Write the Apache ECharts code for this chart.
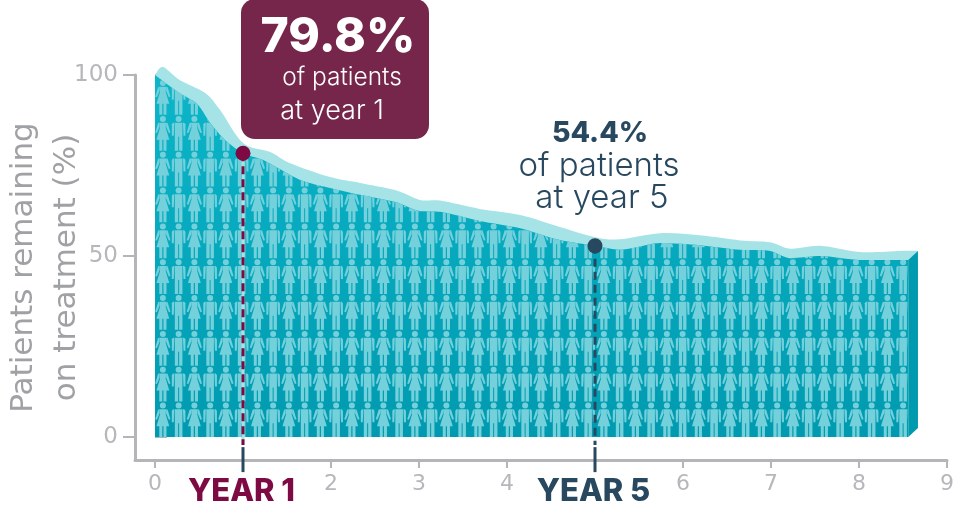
<!DOCTYPE html>
<html><head><meta charset="utf-8">
<style>html,body{margin:0;padding:0;background:#fff}#c{width:956px;height:512px}</style>
<script src="https://cdn.jsdelivr.net/npm/echarts@6/dist/echarts.min.js"></script>
</head><body><div id="c"></div>
<script>
const lowerEdge = [[0,100],[0.28,95],[0.48,92],[0.63,86.7],[0.8,82],[1,78.4],[1.23,76.5],[1.65,71],[1.99,68.8],[2.33,66.9],[2.73,64.9],[3.01,62.4],[3.24,62.2],[3.69,59.7],[4.15,57.7],[4.6,54.4],[5,52.8],[5.28,51.7],[5.74,53.6],[6.19,53],[6.65,51.7],[6.99,51.4],[7.22,49.4],[7.56,50],[8.01,48.9],[8.56,48.9]];
const upperEdge = [[0,100],[0.09,102.2],[0.28,98.6],[0.57,95],[0.74,90.3],[1,81.2],[1.31,78.7],[1.53,75.7],[1.99,71.8],[2.33,70.2],[2.73,68.2],[3.01,65.5],[3.24,65.3],[3.69,63],[4.15,61.3],[4.6,58],[5,55.2],[5.28,54.6],[5.74,56.3],[6.19,55.7],[6.65,54.3],[6.99,53.8],[7.22,52],[7.56,52.8],[8.01,51.1],[8.47,51.4],[8.67,51.4]];
const sideFace = [[8.56,48.9],[8.67,51.4],[8.67,2.5],[8.56,0]];
const xTicks = [0,1,2,3,4,5,6,7,8,9];
const yTicks = [0,50,100];
const year1 = [1,78.4];
const year5 = [5,52.8];
const FONT = 'Inter, "Open Sans", sans-serif';
const NUMFONT = '"DejaVu Sans", sans-serif';
const GREY = '#9fa1a4', TICKGREY = '#b5b7ba', MAROON = '#7d0a42', NAVY = '#28485f', BOX = '#76264a';

function tile(){
  const rows = 6, rowH = 215/rows;
  const c = document.createElement('canvas'); c.width = 63; c.height = 215;
  const g = c.getContext('2d'); g.fillStyle = '#74d0da';
  function poly(x,y,p){ g.beginPath(); p.forEach((q,i)=> i?g.lineTo(x+q[0],y+q[1]):g.moveTo(x+q[0],y+q[1])); g.closePath(); g.fill(); }
  function head(x,y){ g.beginPath(); g.arc(x,y+3.2,3,0,7); g.fill(); }
  function woman(x,y){
    head(x,y);
    poly(x,y,[[-3.4,7],[3.4,7],[2.8,12],[6.4,24],[3.6,24],[3.6,35],[0.6,35],[0.6,24],[-0.6,24],[-0.6,35],[-3.6,35],[-3.6,24],[-6.4,24],[-2.8,12]]);
    poly(x,y,[[-3.4,7],[-4.8,7.3],[-7.6,17],[-6,17.4],[-3.2,11]]);
    poly(x,y,[[3.4,7],[4.8,7.3],[7.6,17],[6,17.4],[3.2,11]]);
  }
  function man(x,y){
    head(x,y);
    poly(x,y,[[-3.8,7],[3.8,7],[3.8,35],[0.5,35],[0.5,21],[-0.5,21],[-0.5,35],[-3.8,35]]);
    poly(x,y,[[-4.4,7],[-5.6,7],[-6.8,8.5],[-6.8,20],[-4.9,20],[-4.4,9.5]]);
    poly(x,y,[[4.4,7],[5.6,7],[6.8,8.5],[6.8,20],[4.9,20],[4.4,9.5]]);
  }
  for(let r=0;r<rows;r++){
    for(let k=0;k<4;k++){ (k%2?man:woman)(7.875+k*15.75, r*rowH+0.2); }
  }
  return c;
}

function curve(pts, move){
  let d = (move?'M':'L')+pts[0][0]+' '+pts[0][1];
  for(let i=0;i<pts.length-1;i++){
    const p0=pts[Math.max(i-1,0)],p1=pts[i],p2=pts[i+1],p3=pts[Math.min(i+2,pts.length-1)],t=0.16;
    d+=' C'+(p1[0]+(p2[0]-p0[0])*t)+' '+(p1[1]+(p2[1]-p0[1])*t)+' '+(p2[0]-(p3[0]-p1[0])*t)+' '+(p2[1]-(p3[1]-p1[1])*t)+' '+p2[0]+' '+p2[1];
  }
  return d;
}
function rule(name,from,to,color,dash,z){
  return {name,type:'line',data:[from,to],symbol:'none',clip:false,z,silent:true,
    lineStyle:{color,width:3,type:dash?[8,5]:'solid',cap:'butt'}};
}
const chart = echarts.init(document.getElementById('c'),null,{renderer:'canvas'});
chart.setOption({
  animation:false,
  backgroundColor:'#fff',
  grid:{left:135,right:9,top:75,bottom:52,outerBoundsMode:'none',containLabel:false},
  xAxis:{type:'value',min:-20/88,max:9,splitLine:{show:false},
    axisLine:{onZero:false,lineStyle:{color:'#b3b5b8',width:3}},
    axisTick:{customValues:xTicks,length:8,lineStyle:{color:'#b3b5b8',width:2}},
    axisLabel:{customValues:xTicks,margin:13,color:TICKGREY,fontFamily:NUMFONT,fontSize:22,
      formatter:v=> v===1?'{a|YEAR 1}':v===5?'{b|YEAR 5}':String(v),
      rich:{a:{color:MAROON,fontFamily:FONT,fontWeight:800,fontSize:31,padding:[3,3,0,0]},
            b:{color:NAVY,fontFamily:FONT,fontWeight:800,fontSize:31,padding:[3,3,0,0]}}}},
  yAxis:[{type:'value',min:-23/3.62,max:100,splitLine:{show:false},
    name:'Patients remaining\non treatment (%)',nameLocation:'middle',nameRotate:90,nameGap:47,nameMoveOverlap:false,
    nameTextStyle:{color:GREY,fontFamily:'"DejaVu Sans"',fontWeight:400,fontSize:31,lineHeight:43},
    axisLine:{onZero:false,lineStyle:{color:'#b3b5b8',width:3}},
    axisTick:{customValues:yTicks,length:12,lineStyle:{color:'#b3b5b8',width:2}},
    axisLabel:{customValues:yTicks,margin:17,color:TICKGREY,fontFamily:NUMFONT,fontSize:23}},
   {type:'value',position:'left',min:-23/3.62,max:100,splitLine:{show:false},
    axisLine:{show:false},axisLabel:{show:false},
    axisTick:{inside:true,customValues:yTicks,length:12,lineStyle:{color:'#b3b5b8',width:2}}}],
  graphic:[
    {type:'rect',z:20,shape:{x:241,y:-1,width:188,height:140,r:14},style:{fill:BOX}},
    {type:'text',z:21,x:338,y:38,style:{text:'79.8%',fill:'#fff',font:'800 48px '+FONT,align:'center',verticalAlign:'middle'}},
    {type:'text',z:21,x:342,y:78,style:{text:'of patients',fill:'#fff',font:'300 24.5px '+FONT,align:'center',verticalAlign:'middle'}},
    {type:'text',z:21,x:332,y:111,style:{text:'at year 1',fill:'#fff',font:'300 27px '+FONT,align:'center',verticalAlign:'middle'}},
    {type:'text',z:21,x:600,y:133,style:{text:'54.4%',fill:NAVY,font:'800 28.5px '+FONT,align:'center',verticalAlign:'middle'}},
    {type:'text',z:21,x:599,y:166,style:{text:'of patients',fill:NAVY,font:'300 33px '+FONT,align:'center',verticalAlign:'middle'}},
    {type:'text',z:21,x:602,y:198,style:{text:'at year 5',fill:NAVY,font:'300 33px '+FONT,align:'center',verticalAlign:'middle'}}
  ],
  series:[
    {name:'band',type:'custom',z:1,silent:true,data:[0],
      renderItem:(p,api)=>{
        const up=upperEdge.map(a=>api.coord(a));
        const low=lowerEdge.map(a=>api.coord([a[0],a[1]-4])).reverse();
        return {type:'path',shape:{pathData:curve(up,true)+' L'+low.map(q=>q.join(' ')).join(' L')+' Z'},style:{fill:'#a6e3e6'}};
      }},
    {name:'Patients remaining',type:'line',z:2,data:lowerEdge,smooth:0.25,symbol:'none',clip:false,silent:true,
      lineStyle:{width:0},
      areaStyle:{origin:0,opacity:1,color:{type:'linear',x:0,y:0,x2:0,y2:1,colorStops:[{offset:0,color:'#0cb6c9'},{offset:1,color:'#009ab0'}]}}},
    {name:'people',type:'line',z:3,data:lowerEdge,smooth:0.25,symbol:'none',clip:false,silent:true,
      lineStyle:{width:0},
      areaStyle:{origin:0,opacity:1,color:{image:tile(),repeat:'repeat',x:155,y:8}}},
    {name:'side',type:'custom',z:4,silent:true,data:[0],
      renderItem:(p,api)=>({type:'polygon',shape:{points:sideFace.map(a=>api.coord(a))},style:{fill:'#009aae'}})},
    rule('year 1 light',year1,[1,-2.2],'#a6e3e6',false,5),
    rule('year 1 guide',year1,[1,-2.2],MAROON,true,6),
    rule('year 1 tick',[1,-2.8],[1,-9.7],NAVY,false,6),
    rule('year 5 guide',year5,[5,-2.2],NAVY,true,6),
    rule('year 5 tick',[5,-2.8],[5,-9.7],NAVY,false,6),
    {name:'year 1 dot',type:'scatter',z:7,data:[year1],symbolSize:15,clip:false,silent:true,itemStyle:{color:MAROON,opacity:1}},
    {name:'year 5 dot',type:'scatter',z:7,data:[year5],symbolSize:15,clip:false,silent:true,itemStyle:{color:NAVY,opacity:1}}
  ]
});
</script></body></html>
